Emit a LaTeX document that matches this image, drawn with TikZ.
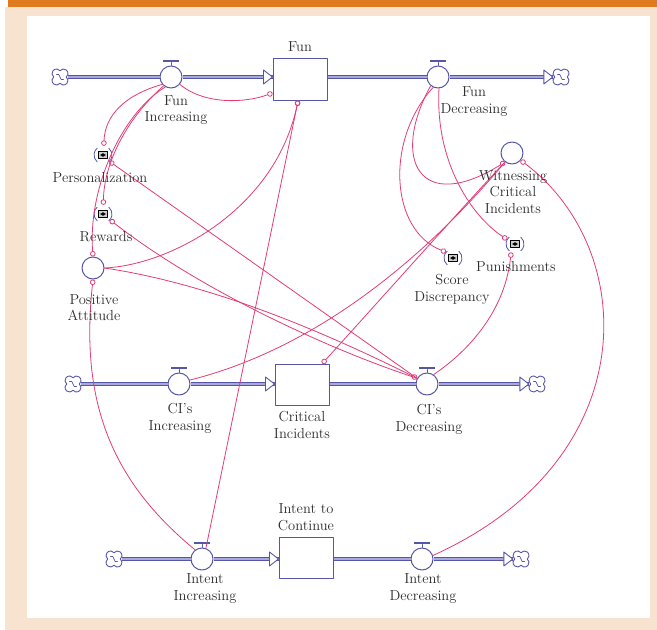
\documentclass[tikz,border=0pt]{standalone}
\usepackage{fontspec}
\usetikzlibrary{arrows.meta}
\definecolor{flowblue}{HTML}{5656A8}
\definecolor{pipefill}{HTML}{A8A8DC}
\definecolor{linkpink}{HTML}{E23C78}
\definecolor{peach}{HTML}{F8E3D0}
\definecolor{topbar}{HTML}{E07A1E}
\definecolor{ink}{HTML}{2E2E2E}
\begin{document}
\begin{tikzpicture}[x=1pt, y=-1pt, line join=round, line cap=round]
	\pgfmathsetmacro\vr{22}
	\pgfmathsetmacro\hw{8}
	\pgfmathsetmacro\gr{9}
	\tikzset{
		valve/.style={circle, draw=flowblue, fill=white, line width=1pt, minimum size=\vr pt, inner sep=0pt},
		stock/.style={rectangle, draw=flowblue, fill=white, line width=1pt, minimum width=54pt, minimum height=42pt, inner sep=0pt},
		sink/.style={circle, minimum size=16pt, inner sep=0pt},
		ghost/.style={circle, minimum size=2*\gr pt, inner sep=0pt},
		pipe/.style={draw=flowblue, double=pipefill, line width=0.9pt, double distance=2.8pt, line cap=butt},
		head/.style={draw=flowblue, fill=white, line width=0.9pt},
		link/.style={draw=linkpink, line width=0.8pt},
		ringstart/.style={{Circle[open,length=5.5pt]}-},
		ringend/.style={-{Circle[open,length=5.5pt]}},
		lbl/.style={text=ink, align=center, font=\fontsize{14.5}{16.5}\selectfont, inner sep=0pt}
	}
	\useasboundingbox (0,0) rectangle (657,630);
	\fill[white] (0,0) rectangle (657,630);
	\fill[peach] (5,7) rectangle (657,630);
	\fill[topbar] (8,0) rectangle (657,7);
	\fill[white] (27,16) rectangle (650,618);

	\node[sink] (funsrc) at (60,77) {};
	\node[valve] (funin) at (171,77) {};
	\node[stock] (fun) at (300,79) {};
	\node[valve] (funout) at (438,77) {};
	\node[sink] (funsnk) at (561,77) {};

	\node[sink] (cisrc) at (73,384) {};
	\node[valve] (ciin) at (179,384) {};
	\node[stock, minimum height=41pt] (ci) at (302,384.5) {};
	\node[valve] (ciout) at (427,384) {};
	\node[sink] (cisnk) at (537,384) {};

	\node[sink] (insrc) at (114,559) {};
	\node[valve] (inin) at (202,559) {};
	\node[stock, minimum height=41pt] (intent) at (306,557.5) {};
	\node[valve] (inout) at (422,559) {};
	\node[sink] (insnk) at (521,559) {};

	\node[valve] (wci) at (512,153) {};
	\node[valve] (pa) at (93,268) {};
	\node[ghost] (pers) at (103,155) {};
	\node[ghost] (rew) at (103,214) {};
	\node[ghost] (score) at (453,258) {};
	\node[ghost] (pun) at (515,244) {};

	\draw[pipe] (funsrc.east) -- (funin.west);
	\draw[pipe] (funin.east) -- (funin -| fun.west);
	\draw[pipe] (funin -| fun.east) -- (funout.west);
	\draw[pipe] (funout.east) -- (funsnk.west);
	\draw[pipe] (cisrc.east) -- (ciin.west);
	\draw[pipe] (ciin.east) -- (ciin -| ci.west);
	\draw[pipe] (ciin -| ci.east) -- (ciout.west);
	\draw[pipe] (ciout.east) -- (cisnk.west);
	\draw[pipe] (insrc.east) -- (inin.west);
	\draw[pipe] (inin.east) -- (inin -| intent.west);
	\draw[pipe] (inin -| intent.east) -- (inout.west);
	\draw[pipe] (inout.east) -- (insnk.west);

	\foreach \v/\t in {funin/fun,ciin/ci,inin/intent,funout/funsnk,ciout/cisnk,inout/insnk}
		\draw[head] (\v -| \t.west) -- ++(-9,-7) -- ++(0,14) -- cycle;
	\foreach \v in {funin,funout,ciin,ciout,inin,inout} {
		\draw[flowblue, line width=0.9pt] (\v.north) -- ++(0,-3);
		\draw[flowblue, line width=2.6pt, line cap=butt] (\v.north) ++(-\hw,-4.5) -- ++(2*\hw,0);
	}
	\foreach \c in {funsrc,funsnk,cisrc,cisnk,insrc,insnk} {
		\draw[flowblue, fill=white, line width=0.9pt] (\c.center) ++(6.33,0) arc (-51:141:4.5) arc (39:231:4.5) arc (129:321:4.5) arc (219:411:4.5) -- cycle;
		\draw[flowblue, line width=0.7pt] ([shift={(-3.5,-2.5)}]\c.center) .. controls ([shift={(1,-5)}]\c.center) and ([shift={(-1,5)}]\c.center) .. ([shift={(3.5,2.5)}]\c.center);
	}
	\foreach \g in {pers,rew,score,pun} {
		\draw[flowblue, line width=0.8pt] (\g.center) ++(130:\gr) arc (130:230:\gr);
		\draw[flowblue, line width=0.8pt] (\g.center) ++(-50:\gr) arc (-50:50:\gr);
		\draw[black, fill=gray!40, line width=0.8pt] (\g.center) ++(-4.5,-3.5) rectangle ++(9,7);
		\fill[black] (\g.center) ++(-2.8,0) -- ++(2.8,-1.8) -- ++(2.8,1.8) -- ++(-2.8,1.8) -- cycle;
	}

	\draw[link, ringend] (funin.-40) .. controls (205,105) and (245,103) .. (fun.207);
	\draw[link, ringstart] (fun.-95) -- (inin.70);
	\draw[link, ringstart] (fun.-95) .. controls (275,210) and (170,265) .. (pa.east);
	\draw[link, ringend] (funin.-140) .. controls (125,95) and (105,115) .. (pers.85);
	\draw[link, ringend] (funin.-130) .. controls (125,120) and (104,165) .. (rew.88);
	\draw[link, ringend] (funin.-120) .. controls (120,115) and (88,190) .. (pa.north);
	\draw[link, ringstart] (pers.-45) -- (ciout.150);
	\draw[link, ringstart] (rew.-40) .. controls (200,290) and (330,350) .. (ciout.150);
	\draw[link, ringend] (pa.east) .. controls (220,285) and (340,340) .. (ciout.150);
	\draw[link, ringstart] (pa.south) .. controls (80,400) and (110,480) .. (inin.127);
	\draw[link, ringend] (funout.-130) .. controls (390,160) and (420,215) .. (wci.-128);
	\draw[link, ringend] (funout.-115) .. controls (385,140) and (390,230) .. (score.140);
	\draw[link, ringend] (funout.-85) .. controls (435,160) and (470,215) .. (pun.150);
	\draw[link] (ciin.20) .. controls (330,345) and (440,240) .. (wci.-128);
	\draw[link, ringstart] (ci.46) .. controls (380,300) and (460,210) .. (wci.-128);
	\draw[link, ringstart] (pun.-115) .. controls (505,310) and (470,350) .. (ciout.55);
	\draw[link, ringstart] (wci.-40) .. controls (640,250) and (645,460) .. (inout.18);

	\node[lbl] (funname) at (300,47) {Fun};
	\node[lbl] (funinname) at (176,110) {Fun\\Increasing};
	\node[lbl] (funoutname) at (474,101.5) {Fun\\Decreasing};
	\node[lbl] (wciname) at (513,192) {Witnessing\\Critical\\Incidents};
	\node[lbl] (persname) at (100,178) {Personalization};
	\node[lbl] (rewname) at (106,237) {Rewards};
	\node[lbl] (paname) at (94,307.5) {Positive\\Attitude};
	\node[lbl] (scorename) at (452,289.5) {Score\\Discrepancy};
	\node[lbl] (punname) at (516,267) {Punishments};
	\node[lbl] (ciinname) at (180,418.5) {CI's\\Increasing};
	\node[lbl] (ciname) at (302,425) {Critical\\Incidents};
	\node[lbl] (cioutname) at (429,419.5) {CI's\\Decreasing};
	\node[lbl] (intentname) at (306,517) {Intent to\\Continue};
	\node[lbl] (ininname) at (205,588.5) {Intent\\Increasing};
	\node[lbl] (inoutname) at (423,588.5) {Intent\\Decreasing};
\end{tikzpicture}
\end{document}
